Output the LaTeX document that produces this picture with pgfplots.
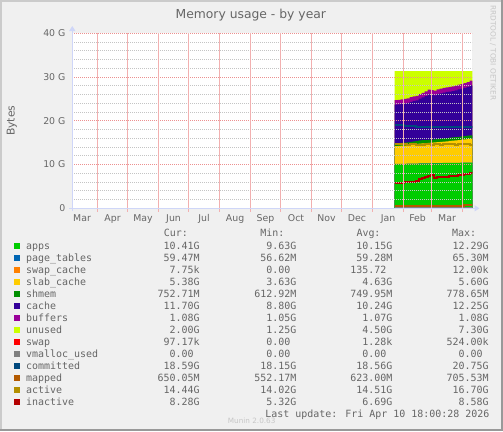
\documentclass[border=0pt]{standalone}
\usepackage{pgfplots}
\pgfplotsset{compat=1.18}
\usepackage{pgfplotstable}
\usepackage{fontspec}
\setmainfont{DejaVu Sans}
\newfontfamily\monof{DejaVu Sans Mono}
\usetikzlibrary{arrows.meta}
\definecolor{backc}{HTML}{F0F0F0}
\definecolor{shadeA}{HTML}{CBCBCB}
\definecolor{shadeB}{HTML}{999999}
\definecolor{fontc}{HTML}{666666}
\definecolor{caxis}{HTML}{CFD6F8}
\definecolor{gridred}{HTML}{EC9090}
\definecolor{gridredv}{HTML}{F2B0B0}
\definecolor{gridgray}{HTML}{C4C4C4}
\definecolor{wmark}{HTML}{C6C6C6}
\definecolor{capps}{HTML}{00CC00}
\definecolor{cpt}{HTML}{0066B3}
\definecolor{cswapc}{HTML}{FF8000}
\definecolor{cslab}{HTML}{FFCC00}
\definecolor{cshmem}{HTML}{008F00}
\definecolor{ccache}{HTML}{330099}
\definecolor{cbuf}{HTML}{990099}
\definecolor{cunused}{HTML}{CCFF00}
\definecolor{cswap}{HTML}{FF0000}
\definecolor{cvmalloc}{HTML}{808080}
\definecolor{ccommit}{HTML}{00487D}
\definecolor{cmapped}{HTML}{B35A00}
\definecolor{cactive}{HTML}{B38F00}
\definecolor{cinactive}{HTML}{B30000}

\pgfplotstableread{
x unused buffers cache shmem slab pt apps committed active inactive mapped vmalloc
328 31.38 24.75 23.70 14.82 14.20 10.16 10.10 19.00 14.70 5.86 0.60 0
331 31.38 24.80 23.75 14.88 14.25 10.16 10.10 19.00 14.65 5.70 0.60 0
334 31.38 24.90 23.85 14.94 14.30 10.18 10.12 18.95 14.60 5.75 0.61 0
337 31.38 25.00 23.95 15.01 14.35 10.18 10.12 18.90 14.60 5.90 0.61 0
340 31.38 25.15 24.10 15.07 14.40 10.21 10.15 18.90 14.55 5.93 0.62 0
343 31.38 25.40 24.35 15.18 14.50 10.21 10.15 18.85 14.60 6.00 0.62 0
346 31.38 25.60 24.55 15.29 14.60 10.24 10.18 18.80 14.60 6.05 0.62 0
349 31.38 25.70 24.65 15.40 14.70 10.24 10.18 18.65 14.55 6.30 0.62 0
352 31.38 26.10 25.05 15.50 14.80 10.26 10.20 18.50 14.50 6.60 0.63 0
355 31.38 26.40 25.34 15.56 14.85 10.26 10.20 18.55 14.55 7.00 0.63 0
358 31.38 26.70 25.64 15.61 14.90 10.28 10.22 18.60 14.60 7.10 0.63 0
361 31.38 27.10 26.04 15.67 14.95 10.28 10.22 18.62 14.60 7.30 0.63 0
364 31.38 27.00 25.94 15.72 15.00 10.31 10.25 18.60 14.55 7.70 0.62 0
367 31.38 26.90 25.84 15.77 15.05 10.31 10.25 18.62 14.60 7.00 0.62 0
370 31.38 27.20 26.14 15.83 15.10 10.34 10.28 18.60 14.60 7.05 0.63 0
373 31.38 27.35 26.29 15.93 15.20 10.34 10.28 18.60 14.55 7.10 0.63 0
376 31.38 27.50 26.44 15.98 15.25 10.36 10.30 18.62 14.60 7.15 0.63 0
379 31.38 27.65 26.59 16.04 15.30 10.36 10.30 18.60 14.60 7.25 0.63 0
382 31.38 27.75 26.68 16.14 15.40 10.38 10.32 18.60 14.60 7.40 0.64 0
385 31.38 27.85 26.78 16.19 15.45 10.39 10.33 18.58 14.60 7.40 0.64 0
388 31.38 28.05 26.98 16.29 15.55 10.40 10.34 18.60 14.55 7.45 0.64 0
391 31.38 28.25 27.18 16.35 15.60 10.41 10.35 18.60 14.60 7.50 0.64 0
394 31.38 28.40 27.33 16.45 15.70 10.42 10.36 18.62 14.60 7.55 0.64 0
397 31.38 28.60 27.53 16.50 15.75 10.43 10.37 18.60 14.60 7.75 0.65 0
400 31.38 28.85 27.77 16.60 15.85 10.44 10.38 18.60 14.60 7.80 0.65 0
403 31.38 29.20 28.12 16.65 15.90 10.46 10.40 18.60 14.50 8.05 0.65 0
406 31.38 29.40 28.32 16.70 15.95 10.47 10.41 18.59 14.50 8.35 0.65 0
}\memdata

\newcommand\lrow[7]{%
  \fill[#2] (14,#1-6.3) rectangle (20,#1-0.3);
  \node[anchor=base west] at (26,#1) {#3};
  \node[anchor=base east] at (199.7,#1) {#4};
  \node[anchor=base east] at (296.5,#1) {#5};
  \node[anchor=base east] at (392.6,#1) {#6};
  \node[anchor=base east] at (488.7,#1) {#7};
}

\begin{document}
\begin{tikzpicture}
\begin{scope}[x=1bp,y=-1bp]
  \path[use as bounding box] (0,0) rectangle (503,431);
  \fill[backc] (0,0) rectangle (503,431);
  \fill[shadeA] (0,0) rectangle (503,2);
  \fill[shadeA] (0,0) rectangle (2,431);
  \fill[shadeB] (501,0) rectangle (503,431);
  \fill[shadeB] (0,429) rectangle (503,431);
\end{scope}

\begin{axis}[
  at={(72.3bp,-208.3bp)}, anchor=south west,
  scale only axis, width=400bp, height=175bp,
  xmin=5.75, xmax=405.75, ymin=0, ymax=40,
  axis background/.style={fill=white},
  axis line style={draw=none},
  axis on top,
  major tick length=0pt, minor tick length=0pt,
  tick pos=left,
  xtick={15.5,46,76.5,107,137.5,168.5,199,229.5,260,290.5,321.5,351,380.5},
  xticklabels={Mar,Apr,May,Jun,Jul,Aug,Sep,Oct,Nov,Dec,Jan,Feb,Mar},
  ytick={0,10,20,30,40},
  yticklabels={0\hspace{6bp},10 G,20 G,30 G,40 G},
  minor ytick={2,4,6,8,12,14,16,18,22,24,26,28,32,34,36,38},
  xmajorgrids=false,
  ymajorgrids=true, yminorgrids=true,
  major y grid style={gridred, dash pattern=on 1bp off 1bp, line width=1bp},
  minor y grid style={gridgray, dash pattern=on 1bp off 1bp, line width=1bp},
  ticklabel style={font=\fontsize{9.4}{11}\selectfont, text=fontc},
  xticklabel style={anchor=base, inner sep=0pt, yshift=-13.4bp},
  yticklabel style={anchor=east, inner sep=0pt, xshift=-6.7bp},
]
\addplot[const plot, fill=cunused, draw=none] table[x=x,y=unused]{\memdata} \closedcycle;
\addplot[const plot, fill=cbuf, draw=none] table[x=x,y=buffers]{\memdata} \closedcycle;
\addplot[const plot, fill=ccache, draw=none] table[x=x,y=cache]{\memdata} \closedcycle;
\addplot[const plot, fill=cshmem, draw=none] table[x=x,y=shmem]{\memdata} \closedcycle;
\addplot[const plot, fill=cslab, draw=none] table[x=x,y=slab]{\memdata} \closedcycle;
\addplot[const plot, fill=cpt, draw=none] table[x=x,y=pt]{\memdata} \closedcycle;
\addplot[const plot, fill=capps, draw=none] table[x=x,y=apps]{\memdata} \closedcycle;
\addplot[const plot, draw=cvmalloc, line width=2bp] table[x=x,y=vmalloc]{\memdata};
\addplot[const plot, draw=ccommit, line width=2bp] table[x=x,y=committed]{\memdata};
\addplot[const plot, draw=cmapped, line width=2bp] table[x=x,y=mapped]{\memdata};
\addplot[const plot, draw=cactive, line width=2bp] table[x=x,y=active]{\memdata};
\addplot[const plot, draw=cinactive, line width=2bp] table[x=x,y=inactive]{\memdata};
\end{axis}

\begin{scope}[x=1bp,y=-1bp]
  \foreach \mx in {97.55,127.55,158.55,188.55,219.55,250.55,280.55,311.55,341.55,372.55,403.55,431.55,462.55}{
    \fill[gridredv] (\mx-0.5,33.3) rectangle (\mx+0.5,211.8);
  }
  \draw[caxis, line width=1bp, -{Triangle[length=5bp,width=6bp]}] (72.3,211) -- (72.3,26);
  \draw[caxis, line width=1bp, -{Triangle[length=5bp,width=6bp]}] (69,208.3) -- (479.5,208.3);
  \node[anchor=base, inner sep=0pt, text=fontc, font=\fontsize{12.4}{14}\selectfont] at (250.8,18.3) {Memory usage - by year};
  \node[rotate=90, anchor=base, inner sep=0pt, text=fontc, font=\fontsize{10.8}{13}\selectfont] at (14.5,120.8) {Bytes};
  \node[rotate=-90, anchor=base west, inner sep=0pt, text=wmark, font=\fontsize{7.4}{9}\selectfont] at (490.7,5) {RRDTOOL / TOBI OETIKER};
  \begin{scope}[every node/.style={inner sep=0pt, text=fontc, font=\monof\fontsize{10}{12}\selectfont}]
    \node[anchor=base west] at (163.7,236.7) {Cur:};
    \node[anchor=base west] at (260.1,236.7) {Min:};
    \node[anchor=base west] at (356.3,236.7) {Avg:};
    \node[anchor=base west] at (451.8,236.7) {Max:};
    \lrow{249.3}{capps}{apps}{10.41G}{9.63G}{10.15G}{12.29G}
    \lrow{261.3}{cpt}{page\_tables}{59.47M}{56.62M}{59.28M}{65.30M}
    \lrow{273.3}{cswapc}{swap\_cache}{7.75k}{0.00\phantom{0}}{135.72\phantom{0}}{12.00k}
    \lrow{285.3}{cslab}{slab\_cache}{5.38G}{3.63G}{4.63G}{5.60G}
    \lrow{297.3}{cshmem}{shmem}{752.71M}{612.92M}{749.95M}{778.65M}
    \lrow{309.3}{ccache}{cache}{11.70G}{8.80G}{10.24G}{12.25G}
    \lrow{321.3}{cbuf}{buffers}{1.08G}{1.05G}{1.07G}{1.08G}
    \lrow{333.3}{cunused}{unused}{2.00G}{1.25G}{4.50G}{7.30G}
    \lrow{345.3}{cswap}{swap}{97.17k}{0.00\phantom{0}}{1.28k}{524.00k}
    \lrow{357.3}{cvmalloc}{vmalloc\_used}{0.00\phantom{0}}{0.00\phantom{0}}{0.00\phantom{0}}{0.00\phantom{0}}
    \lrow{369.3}{ccommit}{committed}{18.59G}{18.15G}{18.56G}{20.75G}
    \lrow{381.3}{cmapped}{mapped}{650.05M}{552.17M}{623.00M}{705.53M}
    \lrow{393.3}{cactive}{active}{14.44G}{14.02G}{14.51G}{16.70G}
    \lrow{405.3}{cinactive}{inactive}{8.28G}{5.32G}{6.69G}{8.58G}
    \node[anchor=base east] at (489.6,417.3) {Last update: Fri Apr 10 18:00:28 2026};
  \end{scope}
  \node[anchor=base, inner sep=0pt, text=wmark, font=\fontsize{7.3}{9}\selectfont] at (251.7,423.3) {Munin 2.0.63};
\end{scope}
\end{tikzpicture}
\end{document}
